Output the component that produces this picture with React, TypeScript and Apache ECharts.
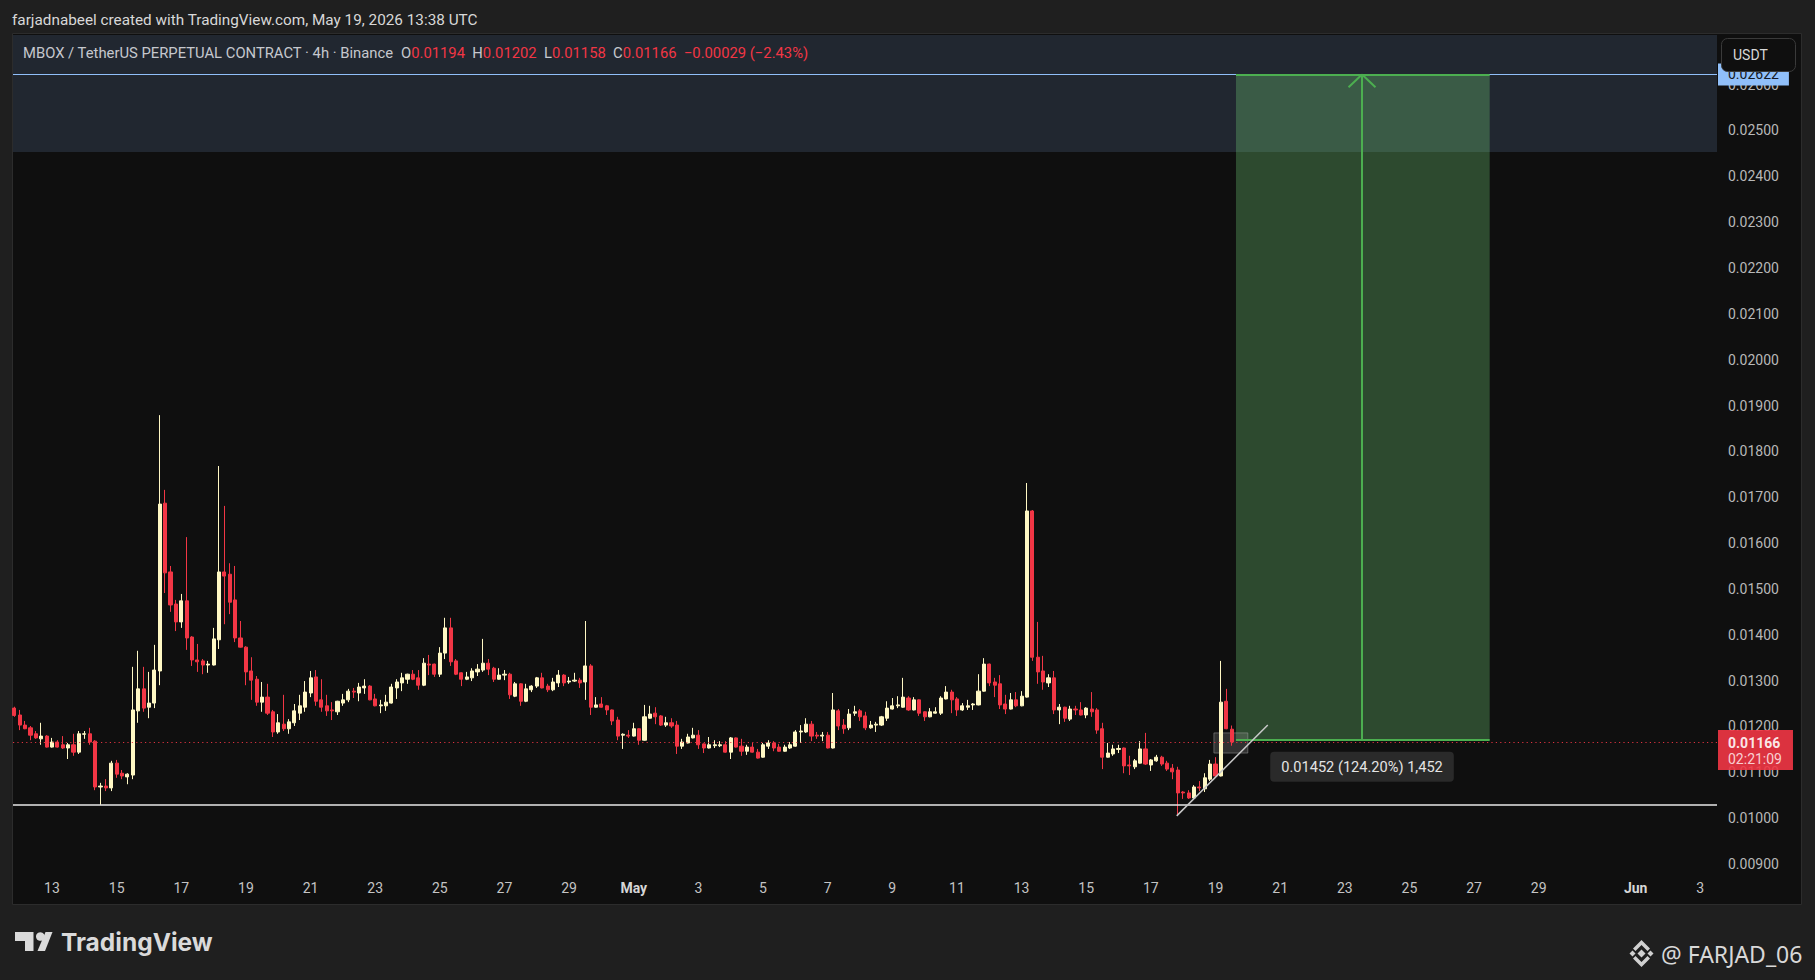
import React, { useEffect, useRef } from "react";
import * as echarts from "echarts";

// ---------------- data ----------------
const HEADER = "farjadnabeel created with TradingView.com, May 19, 2026 13:38 UTC";
const SYMBOL = "MBOX / TetherUS PERPETUAL CONTRACT · 4h · Binance";
const FIRST_CANDLE = "2026-04-11 20:00 UTC"; // 4h candles
const CANDLES_PER_DAY = 6;

const OPEN = [
  0.01240,0.01225,0.01203,0.01197,0.01184,0.01173,0.01179,0.01155,0.01166,0.01160,
  0.01153,0.01160,0.01144,0.01183,0.01184,0.01168,0.01068,0.01070,0.01066,0.01120,
  0.01098,0.01090,0.01094,0.01234,0.01282,0.01242,0.01251,0.01321,0.01687,0.01537,
  0.01467,0.01428,0.01474,0.01395,0.01345,0.01343,0.01334,0.01334,0.01389,0.01537,
  0.01532,0.01476,0.01393,0.01373,0.01321,0.01303,0.01253,0.01264,0.01232,0.01188,
  0.01205,0.01195,0.01208,0.01229,0.01242,0.01273,0.01308,0.01258,0.01245,0.01236,
  0.01232,0.01251,0.01258,0.01277,0.01273,0.01284,0.01288,0.01260,0.01245,0.01245,
  0.01251,0.01284,0.01295,0.01303,0.01314,0.01306,0.01290,0.01336,0.01336,0.01314,
  0.01360,0.01415,0.01343,0.01317,0.01303,0.01306,0.01319,0.01323,0.01338,0.01327,
  0.01303,0.01312,0.01314,0.01266,0.01293,0.01255,0.01280,0.01288,0.01306,0.01288,
  0.01280,0.01295,0.01312,0.01297,0.01299,0.01301,0.01297,0.01332,0.01242,0.01249,
  0.01245,0.01236,0.01214,0.01181,0.01181,0.01179,0.01195,0.01170,0.01218,0.01229,
  0.01223,0.01203,0.01208,0.01203,0.01157,0.01164,0.01175,0.01181,0.01162,0.01153,
  0.01158,0.01158,0.01160,0.01144,0.01175,0.01157,0.01146,0.01155,0.01144,0.01133,
  0.01157,0.01164,0.01155,0.01146,0.01153,0.01157,0.01188,0.01188,0.01205,0.01181,
  0.01179,0.01181,0.01153,0.01234,0.01203,0.01197,0.01229,0.01234,0.01223,0.01197,
  0.01203,0.01203,0.01218,0.01238,0.01245,0.01242,0.01262,0.01236,0.01258,0.01232,
  0.01221,0.01229,0.01229,0.01260,0.01275,0.01260,0.01236,0.01242,0.01247,0.01247,
  0.01277,0.01336,0.01297,0.01293,0.01249,0.01238,0.01258,0.01245,0.01264,0.01670,
  0.01351,0.01321,0.01295,0.01306,0.01236,0.01242,0.01216,0.01238,0.01236,0.01225,
  0.01238,0.01236,0.01195,0.01133,0.01140,0.01150,0.01153,0.01116,0.01112,0.01120,
  0.01151,0.01116,0.01125,0.01133,0.01120,0.01109,0.01105,0.01057,0.01055,0.01044,
  0.01068,0.01064,0.01085,0.01118,0.01092,0.01255,0.01194,
];
const HIGH = [
  0.01243,0.01236,0.01212,0.01201,0.01190,0.01208,0.01181,0.01175,0.01170,0.01179,
  0.01164,0.01184,0.01190,0.01190,0.01197,0.01170,0.01077,0.01085,0.01125,0.01127,
  0.01105,0.01098,0.01330,0.01365,0.01330,0.01319,0.01378,0.01879,0.01716,0.01550,
  0.01476,0.01489,0.01613,0.01397,0.01380,0.01347,0.01343,0.01415,0.01768,0.01681,
  0.01556,0.01550,0.01430,0.01375,0.01351,0.01310,0.01297,0.01293,0.01236,0.01227,
  0.01269,0.01216,0.01249,0.01269,0.01299,0.01321,0.01323,0.01303,0.01269,0.01253,
  0.01256,0.01271,0.01282,0.01284,0.01295,0.01303,0.01290,0.01271,0.01258,0.01269,
  0.01293,0.01303,0.01317,0.01315,0.01323,0.01323,0.01349,0.01356,0.01337,0.01373,
  0.01437,0.01437,0.01347,0.01318,0.01319,0.01327,0.01336,0.01391,0.01347,0.01330,
  0.01327,0.01323,0.01317,0.01297,0.01294,0.01293,0.01290,0.01308,0.01317,0.01293,
  0.01306,0.01323,0.01314,0.01308,0.01317,0.01306,0.01430,0.01336,0.01264,0.01264,
  0.01247,0.01237,0.01221,0.01185,0.01192,0.01208,0.01196,0.01247,0.01245,0.01242,
  0.01225,0.01221,0.01218,0.01212,0.01173,0.01184,0.01197,0.01192,0.01163,0.01177,
  0.01170,0.01168,0.01168,0.01177,0.01176,0.01173,0.01160,0.01164,0.01151,0.01164,
  0.01170,0.01168,0.01162,0.01160,0.01166,0.01192,0.01203,0.01218,0.01212,0.01188,
  0.01188,0.01188,0.01273,0.01238,0.01216,0.01238,0.01245,0.01238,0.01232,0.01212,
  0.01210,0.01223,0.01255,0.01262,0.01266,0.01306,0.01266,0.01264,0.01259,0.01233,
  0.01240,0.01242,0.01266,0.01288,0.01280,0.01264,0.01251,0.01258,0.01251,0.01314,
  0.01349,0.01337,0.01306,0.01312,0.01269,0.01273,0.01275,0.01277,0.01731,0.01672,
  0.01428,0.01354,0.01314,0.01321,0.01249,0.01243,0.01245,0.01245,0.01253,0.01242,
  0.01275,0.01240,0.01208,0.01164,0.01160,0.01160,0.01154,0.01136,0.01129,0.01168,
  0.01186,0.01129,0.01138,0.01136,0.01125,0.01118,0.01112,0.01059,0.01061,0.01072,
  0.01081,0.01098,0.01127,0.01133,0.01343,0.01282,0.01202,
];
const LOW = [
  0.01221,0.01192,0.01194,0.01170,0.01173,0.01160,0.01154,0.01154,0.01154,0.01151,
  0.01129,0.01136,0.01140,0.01173,0.01160,0.01061,0.01029,0.01059,0.01059,0.01088,
  0.01085,0.01074,0.01085,0.01208,0.01232,0.01218,0.01240,0.01290,0.01491,0.01450,
  0.01408,0.01415,0.01367,0.01332,0.01319,0.01314,0.01317,0.01333,0.01369,0.01423,
  0.01445,0.01384,0.01372,0.01290,0.01258,0.01245,0.01232,0.01225,0.01177,0.01184,
  0.01190,0.01184,0.01201,0.01214,0.01232,0.01264,0.01245,0.01232,0.01223,0.01214,
  0.01225,0.01245,0.01253,0.01262,0.01255,0.01271,0.01257,0.01244,0.01229,0.01234,
  0.01250,0.01260,0.01277,0.01293,0.01301,0.01280,0.01288,0.01312,0.01308,0.01308,
  0.01347,0.01332,0.01312,0.01288,0.01301,0.01299,0.01310,0.01319,0.01312,0.01297,
  0.01302,0.01301,0.01260,0.01264,0.01245,0.01253,0.01275,0.01284,0.01283,0.01275,
  0.01277,0.01286,0.01288,0.01293,0.01297,0.01284,0.01258,0.01225,0.01241,0.01241,
  0.01225,0.01203,0.01170,0.01151,0.01175,0.01178,0.01160,0.01169,0.01217,0.01205,
  0.01201,0.01199,0.01197,0.01140,0.01151,0.01163,0.01174,0.01151,0.01142,0.01152,
  0.01153,0.01155,0.01143,0.01129,0.01154,0.01136,0.01138,0.01143,0.01130,0.01132,
  0.01151,0.01146,0.01145,0.01145,0.01151,0.01156,0.01164,0.01186,0.01168,0.01173,
  0.01168,0.01152,0.01152,0.01192,0.01184,0.01192,0.01223,0.01212,0.01192,0.01195,
  0.01188,0.01201,0.01212,0.01237,0.01240,0.01241,0.01234,0.01235,0.01223,0.01212,
  0.01220,0.01228,0.01225,0.01259,0.01229,0.01223,0.01234,0.01236,0.01236,0.01246,
  0.01276,0.01288,0.01264,0.01238,0.01227,0.01237,0.01242,0.01244,0.01263,0.01343,
  0.01293,0.01280,0.01286,0.01227,0.01205,0.01210,0.01212,0.01225,0.01224,0.01218,
  0.01221,0.01184,0.01107,0.01132,0.01136,0.01142,0.01098,0.01094,0.01107,0.01119,
  0.01116,0.01103,0.01123,0.01114,0.01103,0.01085,0.01005,0.01042,0.01042,0.01043,
  0.01059,0.01057,0.01081,0.01091,0.01091,0.01194,0.01158,
];
const CLOSE = [
  0.01224,0.01203,0.01195,0.01181,0.01175,0.01179,0.01155,0.01166,0.01155,0.01153,
  0.01160,0.01144,0.01184,0.01184,0.01166,0.01068,0.01070,0.01066,0.01120,0.01096,
  0.01092,0.01096,0.01236,0.01282,0.01240,0.01251,0.01323,0.01685,0.01535,0.01465,
  0.01428,0.01474,0.01393,0.01345,0.01341,0.01334,0.01336,0.01391,0.01537,0.01528,
  0.01471,0.01393,0.01373,0.01319,0.01301,0.01253,0.01264,0.01229,0.01188,0.01208,
  0.01195,0.01210,0.01234,0.01245,0.01275,0.01306,0.01255,0.01242,0.01234,0.01234,
  0.01255,0.01258,0.01277,0.01275,0.01286,0.01288,0.01258,0.01245,0.01247,0.01253,
  0.01286,0.01297,0.01306,0.01314,0.01303,0.01290,0.01338,0.01334,0.01314,0.01360,
  0.01415,0.01341,0.01314,0.01303,0.01308,0.01321,0.01325,0.01338,0.01325,0.01303,
  0.01312,0.01314,0.01269,0.01293,0.01255,0.01282,0.01288,0.01306,0.01284,0.01280,
  0.01297,0.01312,0.01295,0.01299,0.01301,0.01295,0.01332,0.01242,0.01247,0.01242,
  0.01236,0.01212,0.01179,0.01183,0.01179,0.01195,0.01170,0.01221,0.01227,0.01221,
  0.01203,0.01208,0.01201,0.01157,0.01166,0.01177,0.01181,0.01160,0.01153,0.01160,
  0.01160,0.01160,0.01144,0.01175,0.01155,0.01146,0.01155,0.01144,0.01131,0.01160,
  0.01164,0.01153,0.01146,0.01155,0.01160,0.01188,0.01190,0.01205,0.01179,0.01179,
  0.01181,0.01153,0.01236,0.01201,0.01195,0.01227,0.01232,0.01221,0.01197,0.01203,
  0.01205,0.01221,0.01240,0.01245,0.01247,0.01264,0.01236,0.01258,0.01229,0.01221,
  0.01232,0.01232,0.01262,0.01275,0.01258,0.01236,0.01245,0.01245,0.01249,0.01277,
  0.01336,0.01295,0.01290,0.01247,0.01238,0.01258,0.01245,0.01266,0.01670,0.01351,
  0.01319,0.01297,0.01306,0.01236,0.01242,0.01218,0.01238,0.01236,0.01225,0.01240,
  0.01232,0.01192,0.01133,0.01142,0.01151,0.01152,0.01114,0.01114,0.01125,0.01151,
  0.01118,0.01127,0.01133,0.01118,0.01107,0.01101,0.01055,0.01055,0.01044,0.01068,
  0.01066,0.01088,0.01118,0.01092,0.01253,0.01195,0.01166,
];

// time axis labels (days after Apr 13 00:00, which is the 8th candle)
const DAY_LABELS = ["13","15","17","19","21","23","25","27","29","May","3","5","7","9","11","13","15","17","19","21","23","25","27","29","Jun","3"];
const DAY_OFFSETS = [0,2,4,6,8,10,12,14,16,18,20,22,24,26,28,30,32,34,36,38,40,42,44,46,49,51];
const FIRST_MIDNIGHT_INDEX = 7;
const MONTH_LABELS = ["May", "Jun"];

// price scale labels
const PRICE_TICKS = [0.009,0.010,0.011,0.012,0.013,0.014,0.015,0.016,0.017,0.018,0.019,0.020,0.021,0.022,0.023,0.024,0.025,0.026];

// drawings
const SUPPORT_LEVEL = 0.0103;
const ZONE_BOTTOM = 0.02453;
const TARGET = 0.02622;
const ENTRY = 0.0117;
const COUNTDOWN = "02:21:09";
const POSITION_TEXT = "0.01452 (124.20%) 1,452";
const POSITION_X = [226.8, 250.2, 273.9]; // in candle slots: start, arrow, end
const POSITION_LABEL_PRICE = 0.01112;
const HANDLE_BOX = [222.7, 229.0, 0.01142, 0.01186];
const TREND_START = [215.8, 0.01005];
const TREND_END = [232.7, 0.01203];

// visible window
const X_MIN = -0.24;
const X_MAX = 316.1;
const Y_MIN = 0.008782;
const Y_MAX = 0.027081;

// ---------------- colours ----------------
const UP = "#fff8c4";
const DOWN = "#f23645";
const GREEN = "#4caf50";
const FONT = "Roboto, 'Noto Sans', sans-serif";

export default function App() {
  const ref = useRef<HTMLDivElement | null>(null);

  useEffect(() => {
    if (!ref.current) return;
    const chart = echarts.init(ref.current, undefined, { renderer: "svg" });

    const data = OPEN.map((o, i) => [i, o, CLOSE[i], LOW[i], HIGH[i]]);
    const last = OPEN.length - 1;
    const lastClose = CLOSE[last];
    const change = lastClose - CLOSE[last - 1];
    const pct = (change / CLOSE[last - 1]) * 100;
    const signed = (v: number, d: number) => (v < 0 ? "\u2212" : "+") + Math.abs(v).toFixed(d);

    const tickValues = DAY_OFFSETS.map((d) => FIRST_MIDNIGHT_INDEX + d * CANDLES_PER_DAY);
    const legendText =
      `{g|${SYMBOL}}  {g|O}{r|${OPEN[last].toFixed(5)}}  {g|H}{r|${HIGH[last].toFixed(5)}}  ` +
      `{g|L}{r|${LOW[last].toFixed(5)}}  {g|C}{r|${lastClose.toFixed(5)}}  ` +
      `{r|${signed(change, 5)} (${signed(pct, 2)}%)}`;

    const [pxFrom, pxMid, pxTo] = POSITION_X;
    const arrowDrop = 0.00028;
    const arrowSpread = 2.5;
    const greenLine = { color: GREEN, width: 2, type: "solid" };

    const option: any = {
      animation: false,
      backgroundColor: "#1f1f1f",
      grid: { left: 13, right: 98, top: 35, bottom: 106, containLabel: false },
      xAxis: {
        type: "value",
        min: X_MIN,
        max: X_MAX,
        axisLine: { show: false },
        axisTick: { show: false },
        splitLine: { show: false },
        axisLabel: {
          customValues: tickValues,
          margin: 7,
          color: "#c4c4c4",
          fontFamily: FONT,
          fontSize: 14,
          lineHeight: 14,
          formatter: (v: number) => {
            const k = tickValues.findIndex((t) => Math.abs(t - v) < 0.01);
            const s = k >= 0 ? DAY_LABELS[k] : "";
            return MONTH_LABELS.includes(s) ? `{m|${s}}` : s;
          },
          rich: { m: { fontWeight: "bold", color: "#d6d6d6", fontFamily: FONT, fontSize: 14 } },
        },
      },
      yAxis: {
        type: "value",
        position: "right",
        min: Y_MIN,
        max: Y_MAX,
        axisLine: { show: false },
        axisTick: { show: false },
        splitLine: { show: false },
        axisLabel: {
          customValues: PRICE_TICKS,
          margin: 11,
          color: "#b8b8b8",
          fontFamily: FONT,
          fontSize: 14,
          formatter: (v: number) => v.toFixed(5),
        },
      },
      graphic: {
        elements: [
          {
            type: "rect",
            z: -10,
            silent: true,
            shape: { x: 12.5, y: 33.5, width: 1789, height: 871 },
            style: { fill: "#0f0f0f", stroke: "#2c2c2c", lineWidth: 1 },
          },
          {
            type: "text",
            x: 12,
            y: 19.5,
            silent: true,
            style: { text: HEADER, fill: "#d8d8d8", font: `15.3px ${FONT}`, verticalAlign: "middle" },
          },
          {
            type: "text",
            x: 23,
            y: 53,
            z: 10,
            silent: true,
            style: {
              text: legendText,
              fill: "#c6c8ce",
              font: `14.8px ${FONT}`,
              verticalAlign: "middle",
              rich: {
                g: { fill: "#c6c8ce", fontSize: 14.8, fontFamily: FONT },
                r: { fill: DOWN, fontSize: 14.8, fontFamily: FONT },
              },
            },
          },
          {
            type: "rect",
            z: 100,
            silent: true,
            shape: { x: 1721.5, y: 38.5, width: 74, height: 33, r: 6 },
            style: { fill: "#0f0f0f", stroke: "#3a3a3a", lineWidth: 1 },
          },
          {
            type: "text",
            z: 101,
            x: 1733,
            y: 55,
            silent: true,
            style: { text: "USDT", fill: "#d8d8d8", font: `14px ${FONT}`, verticalAlign: "middle" },
          },
          // TradingView logo
          {
            type: "polygon",
            silent: true,
            shape: { points: [[15, 932], [33.5, 932], [33.5, 951], [25, 951], [25, 941], [15, 941]] },
            style: { fill: "#dadada" },
          },
          { type: "circle", silent: true, shape: { cx: 40.3, cy: 936.5, r: 4.3 }, style: { fill: "#dadada" } },
          {
            type: "polygon",
            silent: true,
            shape: { points: [[45.5, 932], [52.5, 932], [45, 951], [37.5, 951]] },
            style: { fill: "#dadada" },
          },
          {
            type: "text",
            x: 61,
            y: 941.5,
            silent: true,
            style: { text: "TradingView", fill: "#dadada", font: `bold 24.5px Inter, ${FONT}`, verticalAlign: "middle" },
          },
          // Binance mark + handle
          {
            type: "polygon",
            silent: true,
            shape: { points: [[1641.5, 949.5], [1645.5, 953.5], [1641.5, 957.5], [1637.5, 953.5]] },
            style: { fill: "#d0d0d0" },
          },
          {
            type: "polygon",
            silent: true,
            shape: { points: [[1632.5, 950.5], [1635.5, 953.5], [1632.5, 956.5], [1629.5, 953.5]] },
            style: { fill: "#d0d0d0" },
          },
          {
            type: "polygon",
            silent: true,
            shape: { points: [[1650.5, 950.5], [1653.5, 953.5], [1650.5, 956.5], [1647.5, 953.5]] },
            style: { fill: "#d0d0d0" },
          },
          {
            type: "polygon",
            silent: true,
            shape: { points: [[1633, 948.5], [1641.5, 940], [1650, 948.5], [1647.5, 951], [1641.5, 945], [1635.5, 951]] },
            style: { fill: "#d0d0d0" },
          },
          {
            type: "polygon",
            silent: true,
            shape: { points: [[1633, 958.5], [1641.5, 967], [1650, 958.5], [1647.5, 956], [1641.5, 962], [1635.5, 956]] },
            style: { fill: "#d0d0d0" },
          },
          {
            type: "text",
            x: 1661,
            y: 954,
            silent: true,
            style: { text: "@ FARJAD_06", fill: "#d8d8d8", font: `23px 'Noto Sans', ${FONT}`, verticalAlign: "middle" },
          },
        ],
      },
      series: [
        {
          type: "candlestick",
          data,
          encode: { x: 0, y: [1, 2, 3, 4] },
          barWidth: 3.6,
          clip: true,
          itemStyle: { color: UP, color0: DOWN, borderColor: UP, borderColor0: DOWN, borderWidth: 1 },
          markArea: {
            silent: true,
            data: [
              [
                { xAxis: X_MIN, yAxis: ZONE_BOTTOM, itemStyle: { color: "#212730" } },
                { xAxis: X_MAX, yAxis: Y_MAX },
              ],
              [
                { xAxis: pxFrom, yAxis: ENTRY, itemStyle: { color: "rgba(115,211,122,0.3)" } },
                { xAxis: pxTo, yAxis: TARGET },
              ],
              [
                {
                  xAxis: HANDLE_BOX[0],
                  yAxis: HANDLE_BOX[2],
                  itemStyle: { color: "rgba(140,140,140,0.28)", borderColor: "rgba(170,170,170,0.45)", borderWidth: 1 },
                },
                { xAxis: HANDLE_BOX[1], yAxis: HANDLE_BOX[3] },
              ],
            ],
          },
          markLine: {
            silent: true,
            symbol: "none",
            precision: 6,
            label: { show: false },
            data: [
              { yAxis: SUPPORT_LEVEL, lineStyle: { color: "#e8e8e8", width: 1.5, type: "solid" } },
              {
                yAxis: lastClose,
                lineStyle: { color: DOWN, width: 1.2, type: [1.2, 3.2], opacity: 0.9 },
                label: {
                  show: true,
                  position: "end",
                  distance: 1,
                  offset: [0, 8],
                  formatter: `{a|${lastClose.toFixed(5)}}\n{b|${COUNTDOWN}}`,
                  backgroundColor: DOWN,
                  padding: [5, 11, 4, 10],
                  rich: {
                    a: { color: "#ffffff", fontWeight: "bold", fontFamily: FONT, fontSize: 14, lineHeight: 16 },
                    b: { color: "#fde2e5", fontFamily: FONT, fontSize: 14, lineHeight: 15 },
                  },
                },
              },
              {
                yAxis: TARGET,
                lineStyle: { color: "#90bff9", width: 1.2, type: "solid" },
                label: {
                  show: true,
                  position: "end",
                  distance: 1,
                  formatter: TARGET.toFixed(5),
                  backgroundColor: "#90bff9",
                  color: "#131722",
                  fontFamily: FONT,
                  fontSize: 14,
                  padding: [4, 10, 4, 10],
                },
              },
              [{ coord: [pxFrom, TARGET], lineStyle: greenLine }, { coord: [pxTo, TARGET] }],
              [{ coord: [pxFrom, ENTRY], lineStyle: greenLine }, { coord: [pxTo, ENTRY] }],
              [{ coord: [pxMid, ENTRY], lineStyle: greenLine }, { coord: [pxMid, TARGET] }],
              [{ coord: [pxMid - arrowSpread, TARGET - arrowDrop], lineStyle: greenLine }, { coord: [pxMid, TARGET] }],
              [{ coord: [pxMid + arrowSpread, TARGET - arrowDrop], lineStyle: greenLine }, { coord: [pxMid, TARGET] }],
              [
                { coord: TREND_START, lineStyle: { color: "#c8c8c8", width: 1.5, type: "solid" } },
                { coord: TREND_END },
              ],
            ],
          },
          markPoint: {
            silent: true,
            data: [
              {
                coord: [pxMid, POSITION_LABEL_PRICE],
                symbol: "rect",
                symbolSize: 1,
                itemStyle: { color: "rgba(0,0,0,0)" },
                label: {
                  show: true,
                  position: "inside",
                  formatter: POSITION_TEXT,
                  backgroundColor: "#2a2a2a",
                  borderRadius: 4,
                  padding: [8, 11, 7, 11],
                  color: "#e4e4e4",
                  fontFamily: FONT,
                  fontSize: 14.6,
                },
              },
            ],
          },
        },
      ],
    };

    chart.setOption(option);
    return () => chart.dispose();
  }, []);

  return (
    <div
      ref={ref}
      style={{ position: "fixed", left: 0, top: 0, width: 1815, height: 980, background: "#1f1f1f" }}
      data-first-candle={FIRST_CANDLE}
    />
  );
}
